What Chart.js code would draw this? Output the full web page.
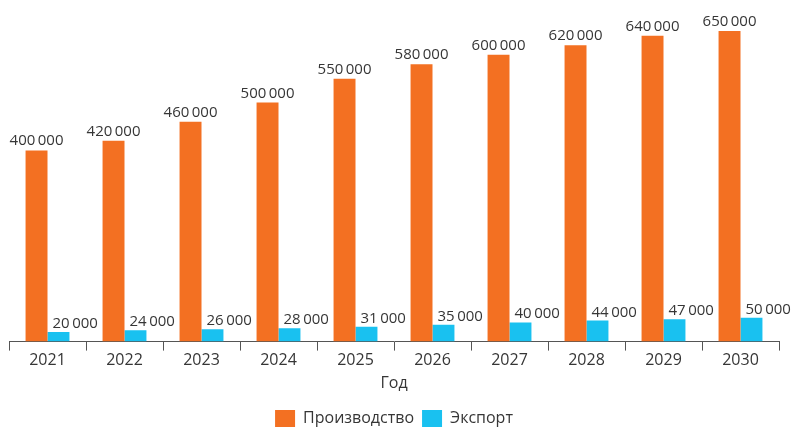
<!DOCTYPE html>
<html lang="ru">
<head>
<meta charset="utf-8">
<title>Производство и экспорт</title>
<script src="https://cdn.jsdelivr.net/npm/chart.js@4/dist/chart.umd.min.js"></script>
<style>
  html, body { margin: 0; padding: 0; background: #ffffff; }
  #wrap { width: 795px; height: 428px; position: relative; }
</style>
</head>
<body>
<div id="wrap"><canvas id="chart"></canvas></div>
<script>
// Годы и значения по сериям
const years = ['2021', '2022', '2023', '2024', '2025', '2026', '2027', '2028', '2029', '2030'];
const production = [400000, 420000, 460000, 500000, 550000, 580000, 600000, 620000, 640000, 650000];
const exportVol = [20000, 24000, 26000, 28000, 31000, 35000, 40000, 44000, 47000, 50000];
const seriesNames = ['Производство', 'Экспорт'];
const axisTitle = 'Год';

const ORANGE = '#f37022';
const BLUE = '#19c1f0';
const TEXT = '#363636';
const FONT = "'Open Sans', 'Noto Sans', sans-serif";

// 400000 -> "400 000" с тонким пробелом
function fmt(v) {
  return String(v).replace(/\B(?=(\d{3})+(?!\d))/g, '\u2009');
}

// Подписи значений над столбиками
const valueLabels = {
  id: 'valueLabels',
  afterDatasetsDraw(chart) {
    const ctx = chart.ctx;
    ctx.save();
    ctx.font = '15px ' + FONT;
    ctx.fillStyle = TEXT;
    ctx.textBaseline = 'alphabetic';
    chart.data.datasets.forEach((ds, di) => {
      const meta = chart.getDatasetMeta(di);
      meta.data.forEach((bar, i) => {
        const txt = fmt(ds.data[i]);
        if (di === 0) {
          ctx.textAlign = 'center';
          ctx.fillText(txt, bar.x, bar.y - 5);
        } else {
          ctx.textAlign = 'left';
          ctx.fillText(txt, bar.x - bar.width / 2 + 5, bar.y - 4);
        }
      });
    });
    ctx.restore();
  }
};

new Chart(document.getElementById('chart'), {
  type: 'bar',
  data: {
    labels: years,
    datasets: [
      { label: seriesNames[0], data: production, backgroundColor: ORANGE, borderWidth: 0 },
      { label: seriesNames[1], data: exportVol, backgroundColor: BLUE, borderWidth: 0 }
    ]
  },
  options: {
    responsive: true,
    maintainAspectRatio: false,
    animation: false,
    layout: { padding: { top: 7, left: 9, right: 16, bottom: -9 } },
    datasets: { bar: { categoryPercentage: 0.57, barPercentage: 1.0 } },
    scales: {
      x: {
        grid: {
          display: true,
          drawOnChartArea: false,
          drawTicks: true,
          tickLength: 9,
          tickColor: '#555555',
          offset: true
        },
        border: { display: true, color: '#555555', width: 1 },
        ticks: { color: TEXT, font: { family: FONT, size: 16 }, padding: 0 },
        title: { display: true, text: axisTitle, color: TEXT, font: { family: FONT, size: 16 }, padding: { top: 4, bottom: 9 } }
      },
      y: {
        display: false,
        min: 0,
        max: 700000
      }
    },
    plugins: {
      legend: {
        position: 'bottom',
        labels: {
          color: TEXT,
          font: { family: FONT, size: 16 },
          boxWidth: 20,
          boxHeight: 17,
          padding: 8
        }
      },
      tooltip: { enabled: false }
    }
  },
  plugins: [valueLabels]
});
</script>
</body>
</html>
